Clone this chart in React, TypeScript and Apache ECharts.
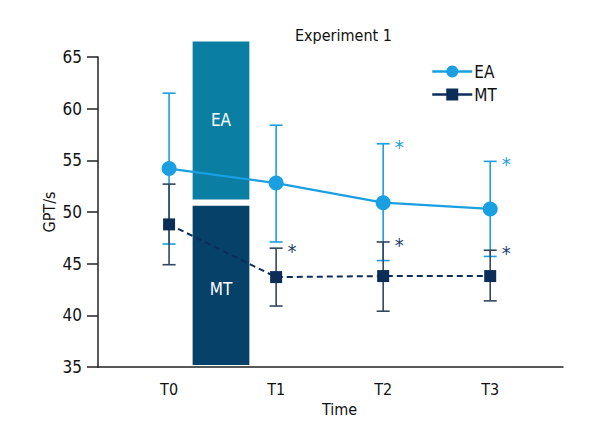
import React, { useEffect, useRef } from 'react';
import * as echarts from 'echarts';

const timeLabels = ['T0', 'T1', 'T2', 'T3'];
const timePos = [0, 1, 2, 3];

const eaMean = [54.2, 52.8, 50.9, 50.3];
const eaLow = [46.9, 47.1, 45.3, 45.7];
const eaHigh = [61.5, 58.4, 56.6, 54.9];
const eaSig = [false, false, true, true];

const mtMean = [48.8, 43.7, 43.8, 43.8];
const mtLow = [44.9, 40.9, 40.4, 41.4];
const mtHigh = [52.7, 46.5, 47.1, 46.3];
const mtSig = [false, true, true, true];

// treatment blocks between T0 and T1
const blockNames = ['EA', 'MT'];
const blockFrom = [0.22, 0.22];
const blockTo = [0.75, 0.75];
const blockLow = [51.2, 35.2];
const blockHigh = [66.5, 50.6];

const EA_COLOR = '#1a9fe0';
const MT_COLOR = '#0b2d58';
const FONT = "'Liberation Sans Narrow', 'DejaVu Sans Condensed', 'Arial Narrow', sans-serif";

const errorBars = (name: string, low: number[], high: number[], color: string, z: number) => ({
  type: 'custom',
  name: name + '-err',
  clip: false,
  z,
  data: timePos.map((x, i) => [x, low[i], high[i]]),
  renderItem: (params: any, api: any) => {
    const x = api.value(0);
    const lo = api.coord([x, api.value(1)]);
    const hi = api.coord([x, api.value(2)]);
    const w = 6.5;
    const style = { stroke: color, lineWidth: 1.6 };
    return {
      type: 'group',
      children: [
        { type: 'line', shape: { x1: lo[0], y1: lo[1], x2: hi[0], y2: hi[1] }, style },
        { type: 'line', shape: { x1: hi[0] - w, y1: hi[1], x2: hi[0] + w, y2: hi[1] }, style },
        { type: 'line', shape: { x1: lo[0] - w, y1: lo[1], x2: lo[0] + w, y2: lo[1] }, style },
      ],
    };
  },
});

const stars = (name: string, high: number[], sig: boolean[], color: string) => ({
  type: 'custom',
  name: name + '-sig',
  clip: false,
  z: 6,
  data: timePos.map((x, i) => [x, high[i]]).filter((_, i) => sig[i]),
  renderItem: (params: any, api: any) => {
    const p = api.coord([api.value(0), api.value(1)]);
    return {
      type: 'text',
      x: p[0] + 16,
      y: p[1] + 3,
      style: {
        text: '*',
        fill: color,
        font: '20px ' + FONT,
        align: 'center',
        verticalAlign: 'middle',
      },
    };
  },
});

const App = () => {
  const chartRef = useRef<any>(null);

  useEffect(() => {
    document.body.style.margin = '0';
    const chart = echarts.init(chartRef.current, null, { renderer: 'svg' });

    const option: any = {
      animation: false,
      backgroundColor: '#fff',
      textStyle: { fontFamily: FONT },
      title: {
        text: 'Experiment 1',
        left: 290,
        top: 22,
        textStyle: { fontSize: 16, fontWeight: 'normal', color: '#111', fontFamily: FONT },
      },
      legend: {
        data: ['EA', 'MT'],
        orient: 'vertical',
        left: 426,
        top: 58,
        itemWidth: 40,
        itemHeight: 15,
        itemGap: 6,
        lineStyle: { type: 'solid', width: 2.5 },
        textStyle: { fontSize: 17, color: '#111', fontFamily: FONT, padding: [0, 0, 0, -3] },
      },
      grid: { left: 98, right: 37, top: 57, bottom: 73 },
      xAxis: {
        type: 'value',
        min: -0.664,
        max: 3.68,
        name: 'Time',
        nameLocation: 'middle',
        nameGap: 32,
        nameTextStyle: { fontSize: 16, color: '#111', padding: [0, 0, 0, 18] },
        axisLine: { onZero: false, lineStyle: { color: '#222', width: 1.5 } },
        axisTick: { show: false },
        splitLine: { show: false },
        axisLabel: {
          customValues: timePos,
          formatter: (v: number) => timeLabels[Math.round(v)],
          fontSize: 16,
          color: '#111',
          margin: 14,
        },
      },
      yAxis: {
        type: 'value',
        min: 35,
        max: 65,
        interval: 5,
        name: 'GPT/s',
        nameLocation: 'middle',
        nameGap: 41,
        nameMoveOverlap: false,
        nameTextStyle: { fontSize: 16, color: '#111' },
        axisLine: { show: true, onZero: false, lineStyle: { color: '#222', width: 1.5 } },
        axisTick: { show: true, length: 11, lineStyle: { color: '#222', width: 1.5 } },
        splitLine: { show: false },
        axisLabel: { fontSize: 17, color: '#111', margin: 16 },
      },
      series: [
        {
          type: 'custom',
          name: 'blocks',
          clip: false,
          z: 1,
          data: blockNames.map((_, i) => [blockFrom[i], blockTo[i], blockLow[i], blockHigh[i]]),
          renderItem: (params: any, api: any) => {
            const a = api.coord([api.value(0), api.value(3)]);
            const b = api.coord([api.value(1), api.value(2)]);
            const i = params.dataIndex;
            return {
              type: 'group',
              children: [
                {
                  type: 'rect',
                  shape: { x: a[0], y: a[1], width: b[0] - a[0], height: b[1] - a[1] },
                  style: { fill: i === 0 ? '#0b7ea3' : '#06416a' },
                },
                {
                  type: 'text',
                  x: (a[0] + b[0]) / 2,
                  y: i === 0 ? a[1] + 78 : (a[1] + b[1]) / 2 + 4,
                  style: {
                    text: blockNames[i],
                    fill: '#fff',
                    font: '17px ' + FONT,
                    align: 'center',
                    verticalAlign: 'middle',
                  },
                },
              ],
            };
          },
        },
        errorBars('EA', eaLow, eaHigh, EA_COLOR, 3),
        errorBars('MT', mtLow, mtHigh, '#33455f', 3),
        {
          type: 'line',
          name: 'EA',
          z: 5,
          data: timePos.map((x, i) => [x, eaMean[i]]),
          symbol: 'circle',
          symbolSize: 15,
          color: EA_COLOR,
          lineStyle: { color: EA_COLOR, width: 2.2 },
          itemStyle: { color: EA_COLOR },
        },
        {
          type: 'line',
          name: 'MT',
          z: 5,
          data: timePos.map((x, i) => [x, mtMean[i]]),
          symbol: 'rect',
          symbolSize: 12,
          color: MT_COLOR,
          lineStyle: { color: MT_COLOR, width: 2, type: [6, 4] },
          itemStyle: { color: MT_COLOR },
        },
        stars('EA', eaHigh, eaSig, EA_COLOR),
        stars('MT', mtHigh, mtSig, '#1d3f6e'),
      ],
    };

    chart.setOption(option);

    return () => {
      chart.dispose();
    };
  }, []);

  return <div ref={chartRef} style={{ width: '600px', height: '440px' }} />;
};

export default App;
